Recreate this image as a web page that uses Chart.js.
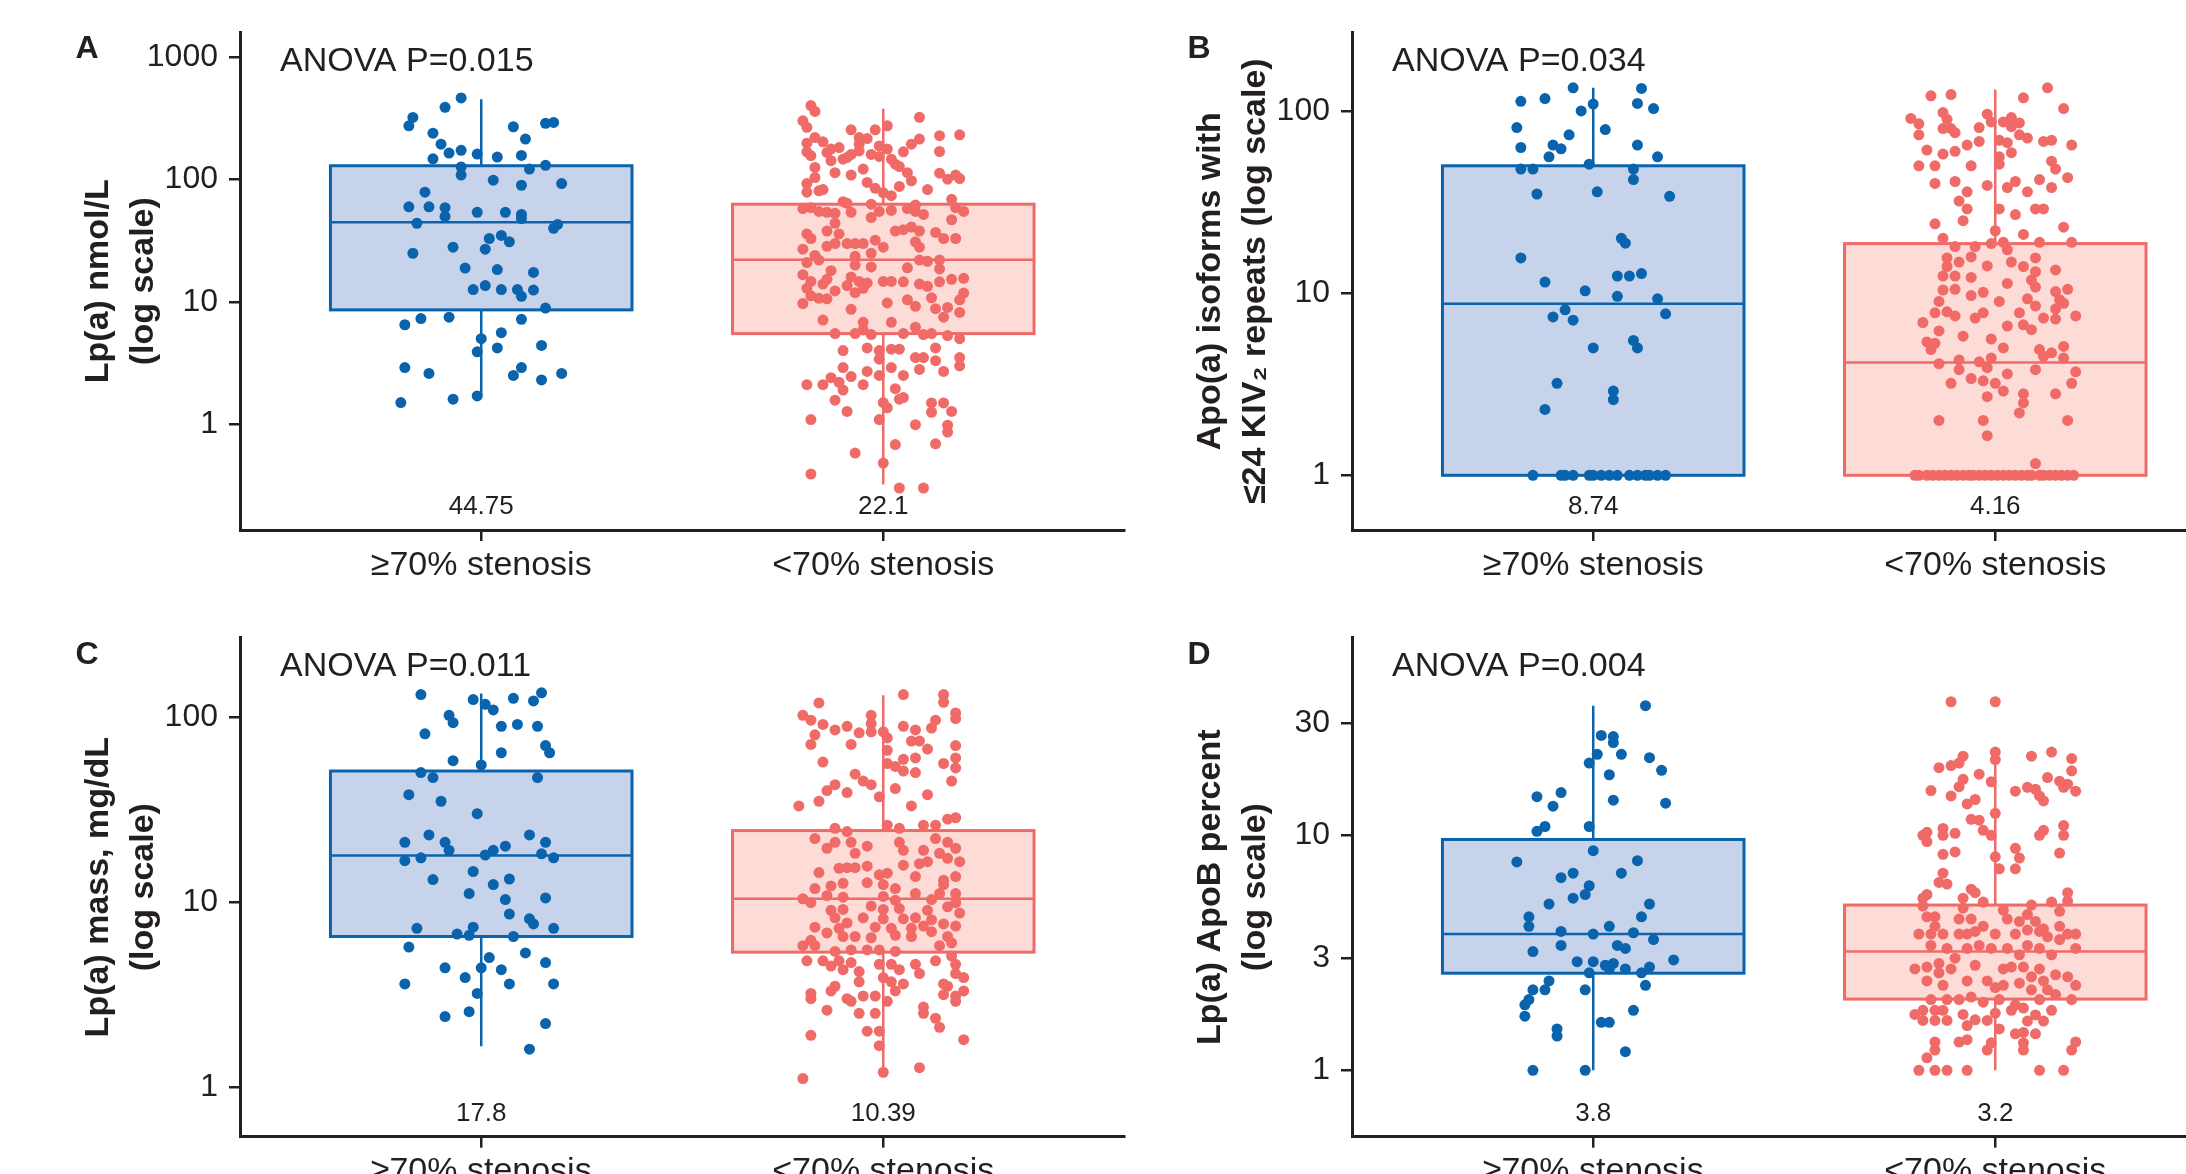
<!DOCTYPE html>
<html>
<head>
<meta charset="utf-8">
<script src="https://cdn.jsdelivr.net/npm/chart.js@4.4.1/dist/chart.umd.min.js"></script>
<style>
html, body { margin: 0; padding: 0; background: #fff; overflow: hidden; width: 2186px; height: 1174px; }
canvas { position: absolute; }
</style>
</head>
<body>
<canvas id="pA" width="1130" height="600" style="left:0;top:0"></canvas>
<canvas id="pB" width="1130" height="600" style="left:1112px;top:0"></canvas>
<canvas id="pC" width="1130" height="600" style="left:0;top:600px"></canvas>
<canvas id="pD" width="1130" height="600" style="left:1112px;top:600px"></canvas>
<script>
// groups on the x axis
var groups = ['≥70% stenosis', '<70% stenosis'];

// box stats per group: [whisker low, q1, median, q3, whisker high]
var statsA = [[1.7, 8.6, 44.75, 130, 455], [0.32, 5.5, 22.1, 63, 380]];
var statsB = [[1, 1, 8.74, 50, 134], [1, 1, 4.16, 18.7, 131]];
var statsC = [[1.66, 6.5, 17.8, 51, 134], [1.14, 5.35, 10.39, 24.3, 131]];
var statsD = [[1, 2.59, 3.8, 9.6, 35.6], [1, 2.01, 3.2, 5.05, 22.6]];

var medianLabels = {
    A: ['44.75', '22.1'],
    B: ['8.74', '4.16'],
    C: ['17.8', '10.39'],
    D: ['3.8', '3.2']
};

// y ticks
var ticksA = [1, 10, 100, 1000];
var ticksB = [1, 10, 100];
var ticksC = [1, 10, 100];
var ticksD = [1, 3, 10, 30];

// points: [jitter, value]
var aBlue = [[-0.05,466],[-0.09,391],[-0.17,323],[-0.18,276],[-0.12,240],[0.08,271],[0.16,289],[0.18,294],[0.11,215],[-0.10,195],[-0.08,165],[-0.05,174],[-0.01,162],[-0.12,148],[0.04,153],[0.10,158],[-0.05,127],[-0.05,109],[0.12,122],[0.16,131],[0.03,99],[0.10,90],[0.20,93],[-0.14,79],[-0.18,60],[-0.13,60],[-0.09,59],[-0.09,50],[-0.01,54],[0.06,54],[0.10,52],[0.10,48],[-0.16,44],[0.18,40],[0.19,43],[0.02,33],[0.05,35],[0.07,31],[-0.17,25],[-0.07,28],[0.01,27],[-0.04,18.9],[0.04,18.4],[0.13,17.4],[-0.02,12.6],[0.01,13.6],[0.05,12.6],[0.09,12.6],[0.10,11.1],[0.13,12.5],[0.16,8.9],[-0.19,6.5],[-0.15,7.3],[-0.08,7.5],[0.10,7.2],[0.00,5.0],[0.05,5.6],[-0.01,3.9],[0.04,4.2],[0.15,4.4],[-0.19,2.9],[-0.13,2.6],[0.08,2.5],[0.10,2.9],[0.15,2.3],[0.20,2.6],[-0.20,1.5],[-0.07,1.6],[-0.01,1.7]];

var aRed = [[-0.18,404],[-0.17,362],[0.09,324],[-0.20,303],[-0.19,268],[-0.08,256],[-0.02,256],[0.01,276],[0.14,229],[0.19,233],[-0.17,221],[-0.06,221],[-0.04,217],[-0.15,204],[-0.19,199],[0.09,215],[0.07,195],[-0.01,189],[0.01,178],[-0.13,178],[-0.11,183],[-0.06,195],[-0.19,169],[-0.18,157],[-0.14,167],[-0.08,161],[-0.06,172],[-0.03,161],[-0.01,155],[0.05,169],[0.14,170],[0.02,147],[-0.13,143],[-0.10,147],[-0.09,152],[0.03,134],[0.04,128],[-0.17,126],[-0.05,122],[-0.12,114],[-0.08,109],[0.06,114],[0.14,113],[0.18,109],[-0.17,104],[0.16,101],[0.19,102],[-0.04,95],[0.07,98],[-0.19,93],[-0.19,79],[-0.16,81],[-0.15,83],[-0.02,85],[0.00,78],[0.02,74],[0.04,88],[0.11,83],[0.17,69],[-0.10,66],[-0.09,64],[-0.03,63],[0.08,62],
    [-0.20,58],[-0.18,59],[-0.16,55],[-0.14,54],[-0.12,53],[-0.08,54],[-0.03,49],[-0.01,55],[0.02,56],[0.06,58],[0.08,55],[0.10,52],[0.18,59],[0.20,55],[0.17,47],[-0.12,44],[-0.14,38],[-0.19,36],[-0.18,33],[-0.11,36],[0.03,38],[0.05,39],[0.07,41],[0.09,38],[0.13,37],[0.15,33],[0.18,33],[-0.09,30],[-0.07,30],[-0.05,30],[-0.02,32],[0.00,28],[0.08,31],[0.09,28],[-0.20,27],[-0.14,28.5],[-0.12,30],[-0.03,25],[-0.17,24],[-0.16,22],[-0.19,21],[-0.07,23.6],[-0.07,20],[-0.03,19.3],[0.06,19],[0.09,22],[0.11,21.5],[0.14,22],[0.14,18.6],[-0.13,18],[-0.14,15.3],[-0.20,16.7],[-0.18,14.7],[-0.19,12.9],[-0.15,14],[-0.08,16],[-0.06,14.7],[-0.09,13.6],[-0.04,14.3],[0.00,14.7],[0.02,14.7],[0.05,14.6],[0.09,14],[0.11,13.4],[0.14,14.6],[0.17,15.3],[0.20,15.6],[-0.12,12.3],[-0.07,11.9],[-0.05,12.9],[-0.18,11.2],[-0.16,10.7],[-0.14,10.6],[-0.20,9.7],[0.01,9.8],[0.06,10.4],[0.08,9.2],[0.12,10.8],[0.20,11.8],[0.19,10.4],[-0.08,8.7],[0.13,8.8],[0.16,9.0],[0.19,8.2],[0.15,7.5],[-0.15,7.1],[-0.05,6.8],[0.02,6.8],[-0.05,5.9],[-0.07,5.5],[-0.12,5.5],[-0.03,5.4],[0.05,5.5],[0.08,6.2],[0.10,5.4],[0.12,5.5],[0.16,5.3],[0.19,5.0],
    [-0.10,4.0],[-0.04,4.2],[-0.01,4.0],[0.02,4.1],[0.04,4.1],[0.08,3.5],[0.10,3.5],[0.13,3.3],[0.13,4.2],[0.19,3.5],[0.19,3.0],[-0.01,3.4],[-0.10,2.9],[-0.04,2.7],[-0.01,2.5],[0.02,2.9],[0.05,2.5],[0.09,2.8],[0.15,2.7],[-0.13,2.4],[-0.08,2.45],[-0.11,2.2],[-0.10,1.9],[-0.05,2.1],[-0.19,2.1],[-0.15,2.1],[0.03,1.95],[0.04,1.6],[0.05,1.65],[0.00,1.5],[0.01,1.36],[-0.12,1.57],[-0.09,1.27],[0.12,1.49],[0.15,1.49],[0.12,1.25],[0.17,1.27],[-0.18,1.09],[-0.01,1.09],[0.08,0.99],[0.16,0.98],[0.16,0.86],[0.03,0.68],[0.13,0.69],[-0.07,0.58],[0.00,0.48],[-0.18,0.39],[0.04,0.30],[0.10,0.30]];

var bBlue = [[-0.05,134],[-0.18,113],[-0.12,117],[-0.03,100],[0.00,109],[0.12,133],[0.11,110],[0.15,103],[-0.19,81],[0.03,79],[-0.06,74],[-0.18,63],[-0.10,65],[-0.08,62],[-0.11,56],[0.11,65],[0.16,56],[-0.18,48],[-0.15,48],[-0.01,51],[0.10,48],[0.10,42],[-0.14,35],[0.01,36],[0.19,34],[0.07,20],[0.08,18.8],[-0.18,15.6],[0.06,12.4],[0.09,12.4],[0.12,12.8],[-0.12,11.5],[-0.02,10.3],[0.06,9.6],[0.16,9.3],[-0.07,8.1],[-0.10,7.4],[-0.05,7.1],[0.18,7.7],[0.10,5.5],[0.11,5.0],[0.00,5.0],[-0.09,3.2],[0.05,2.9],[0.05,2.6],[-0.12,2.3],
    [-0.15,1],[-0.08,1],[-0.07,1],[-0.05,1],[-0.01,1],[0.00,1],[0.02,1],[0.04,1],[0.06,1],[0.09,1],[0.11,1],[0.13,1],[0.14,1],[0.16,1],[0.18,1]];

var bRed = [[-0.16,121],[-0.11,123],[0.13,134],[0.07,118],[0.17,103],[-0.21,91],[-0.19,85],[-0.13,98],[-0.12,90],[-0.13,80],[-0.11,80],[-0.10,76],[-0.19,74],[-0.04,81],[-0.02,96],[-0.01,87],[0.02,87],[0.04,92],[0.06,86],[0.04,82],[0.06,74],[0.08,71],[0.01,69],[0.03,67],[0.12,68],[0.14,69],[0.19,65],[-0.17,61],[-0.13,58],[-0.10,60],[-0.07,65],[-0.04,68],[0.04,59],[0.01,56],[0.01,51],[0.14,53],[0.15,48],[-0.19,50],[-0.15,50],[-0.06,50],[-0.15,40],[-0.10,41],[-0.07,36],[-0.02,39],[0.03,38],[0.05,41],[0.08,36],[0.11,42],[0.14,38],[0.18,43],[-0.09,32],[-0.07,29],[-0.08,25],[-0.15,24],[0.01,29],[0.05,27],[0.10,29],[0.12,29],[0.17,23],[0.00,22],[0.07,21],[-0.13,20],[-0.10,18],[-0.05,18],[-0.01,18.7],[0.02,19],[0.03,17.3],[0.11,19],[0.19,19],[-0.12,15.6],[-0.12,14],[-0.09,14.8],[-0.06,15.8],[-0.02,14.1],[0.04,14.8],[0.07,14],[0.10,15.6],[0.15,13.4],[-0.13,12.4],[-0.10,12.4],[-0.06,12.2],[0.10,13.1],[0.09,11.8],[0.03,11.3],[-0.13,10.4],[-0.10,10.5],[-0.06,9.7],[-0.03,10.1],[0.10,10.8],[0.15,10.2],[0.18,10.5],[-0.14,9.0],[0.01,9.0],[0.08,9.3],[0.16,9.2],[0.17,8.8],[-0.15,7.8],[-0.12,7.9],[-0.10,7.5],[-0.05,7.3],[-0.03,7.8],[0.06,7.8],[0.10,8.5],[0.15,8.2],[0.20,7.5],[-0.18,6.9],[-0.14,6.2],[-0.08,5.8],[0.03,6.6],[0.07,6.7],[0.09,6.3],[0.12,7.3],[0.15,7.2],[-0.17,5.4],[-0.15,5.3],[-0.16,4.9],[-0.01,5.6],[0.02,5.0],[0.11,4.9],[0.14,4.7],[0.17,5.1],[0.17,4.4],[0.12,4.5],[-0.09,4.3],[-0.09,3.8],[-0.14,4.1],[-0.04,4.2],[-0.01,4.4],[-0.02,3.9],[0.03,3.6],[0.10,3.8],[0.20,3.7],[0.19,3.2],[-0.11,3.2],[-0.06,3.4],[-0.03,3.3],[0.00,3.2],[0.02,2.9],[-0.02,2.7],[0.07,2.8],[0.07,2.5],[0.15,2.8],[0.06,2.2],[-0.14,2.0],[-0.03,2.0],[0.18,2.0],[-0.02,1.65],[0.10,1.16],
    [-0.20,1],[-0.19,1],[-0.17,1],[-0.155,1],[-0.14,1],[-0.125,1],[-0.11,1],[-0.095,1],[-0.08,1],[-0.065,1],[-0.055,1],[-0.04,1],[-0.025,1],[-0.01,1],[0.005,1],[0.02,1],[0.035,1],[0.05,1],[0.065,1],[0.08,1],[0.09,1],[0.11,1],[0.12,1],[0.135,1],[0.15,1],[0.165,1],[0.18,1],[0.195,1]];

var cBlue = [[-0.15,132],[-0.02,124],[0.01,117],[0.03,109],[0.08,126],[0.13,122],[0.15,135],[-0.08,102],[-0.07,93],[-0.14,81],[0.05,89],[0.09,91],[0.14,89],[0.16,70],[0.17,64],[0.05,64],[-0.07,58],[0.00,55],[-0.15,50],[-0.12,47],[0.14,47],[-0.18,38],[-0.10,35],[-0.01,30],[-0.13,23],[-0.19,21],[-0.09,21],[-0.08,19],[0.12,23],[0.16,21],[0.06,20],[0.03,19],[0.01,17.9],[0.15,18.2],[0.18,17.3],[-0.19,16.7],[-0.15,17.3],[-0.02,14.6],[-0.12,13.2],[0.03,12.4],[0.07,13.3],[-0.03,11.1],[0.16,10.5],[0.06,10.3],[0.07,8.6],[0.12,8.1],[0.13,7.6],[-0.16,7.2],[-0.02,7.3],[-0.06,6.7],[-0.03,6.6],[0.08,6.5],[0.18,7.2],[-0.18,5.7],[0.02,5.0],[0.11,5.3],[0.16,4.7],[-0.09,4.4],[0.00,4.4],[0.05,4.3],[-0.04,3.9],[-0.19,3.6],[0.07,3.6],[0.18,3.6],[-0.01,3.2],[-0.09,2.4],[-0.03,2.55],[0.16,2.2],[0.12,1.6]];

var cRed = [[-0.16,119],[0.05,132],[0.15,132],[0.15,120],[-0.20,102],[-0.18,96],[-0.03,102],[0.18,105],[0.18,98],[-0.15,91],[-0.12,85],[-0.09,89],[-0.06,82],[-0.03,92],[-0.03,83],[0.05,89],[0.08,85],[0.13,96],[0.12,87],[-0.17,80],[-0.18,71],[-0.08,71],[0.00,83],[0.01,77],[0.07,74],[0.09,74],[0.11,67],[0.18,70],[0.01,66],[0.05,59],[0.08,60],[-0.15,57],[0.01,56],[0.03,54],[0.05,51],[0.08,50],[0.15,56],[0.18,60],[0.18,53],[0.17,45],[-0.07,49],[-0.05,45],[-0.03,43],[-0.12,43],[-0.14,40],[-0.09,39],[-0.01,37],[0.03,41],[0.11,38],[-0.16,35],[-0.21,33],[0.07,33],[0.16,28],[0.18,28.5],[0.01,26],[-0.12,25],[0.10,26],[0.13,26],[0.04,25],[-0.09,24],
    [-0.17,22],[-0.14,19.5],[-0.12,21],[-0.08,21],[-0.07,18.3],[-0.04,20],[0.04,21],[0.05,19],[0.10,19],[0.13,22],[0.16,21],[0.18,19.5],[0.14,18.3],[0.16,17.2],[0.19,16.5],[0.11,16.5],[0.09,16.1],[0.05,15.8],[-0.11,15.2],[-0.09,15.3],[-0.07,15.3],[-0.04,15.6],[-0.16,14.4],[-0.04,12.7],[-0.01,14],[0.01,14.3],[0.08,13.7],[0.15,13.1],[0.18,13.7],[-0.13,12.2],[-0.10,12.6],[-0.17,11.8],[0.00,12.4],[0.03,11.8],[0.15,12.4],[0.08,11.1],[0.14,11.1],[0.18,11.1],[-0.20,10.4],[-0.18,9.9],[-0.14,10.8],[-0.10,10.6],[0.00,10.7],[0.03,10.2],[0.12,10.3],[0.18,9.9],[-0.13,9.0],[-0.10,9.1],[-0.03,9.5],[0.00,9.1],[0.04,9.2],[0.11,9.0],[0.16,9.4],[-0.12,8.2],[-0.05,8.2],[0.00,8.1],[0.05,8.1],[0.08,8.2],[0.12,8.0],[0.19,8.7],[-0.17,7.3],[-0.11,7.2],[-0.09,7.7],[-0.02,7.3],[0.02,7.2],[0.07,7.2],[0.10,7.4],[0.15,7.6],[0.18,7.4],[-0.14,6.8],[-0.10,6.5],[-0.07,6.5],[-0.03,6.4],[0.03,6.6],[0.07,6.5],[0.12,6.9],[0.16,6.5],[-0.18,6.2],[-0.20,5.8],[-0.17,5.8],[0.17,6.0],[0.14,5.8],[-0.12,5.4],[-0.08,5.5],[-0.04,5.5],[-0.01,5.5],[0.03,5.4],
    [-0.19,4.8],[-0.15,4.8],[-0.11,4.8],[-0.08,4.7],[-0.13,4.5],[-0.10,4.3],[-0.06,4.2],[-0.01,4.6],[0.02,4.6],[0.04,4.3],[0.08,4.6],[0.09,4.1],[0.13,4.8],[0.17,5.1],[0.18,4.6],[0.18,4.1],[0.20,3.9],[0.00,3.9],[0.02,3.7],[0.05,3.6],[0.03,3.3],[-0.06,3.7],[-0.13,3.3],[-0.12,3.5],[-0.18,3.2],[-0.18,3.0],[-0.09,3.0],[-0.08,2.9],[-0.05,3.1],[-0.02,3.1],[0.01,2.9],[0.15,3.6],[0.15,3.15],[0.18,3.1],[0.18,2.9],[0.20,3.3],[0.16,3.5],[-0.14,2.6],[-0.06,2.5],[-0.02,2.5],[0.10,2.5],[0.10,2.7],[0.13,2.35],[0.14,2.1],[-0.04,2.0],[-0.01,2.0],[-0.18,1.9],[0.20,1.8],[-0.01,1.67],[0.00,1.2],[0.09,1.27],[-0.20,1.11]];

var dBlue = [[0.13,35.6],[0.02,26.6],[0.05,26.3],[0.05,24.8],[0.01,22.1],[0.07,22.1],[0.14,21.4],[-0.01,20.3],[0.17,18.9],[0.04,18.1],[-0.14,14.6],[-0.08,15.2],[-0.10,13.3],[0.05,14.1],[0.18,13.7],[-0.14,10.4],[-0.12,10.9],[-0.01,10.9],[0.00,8.6],[-0.19,7.7],[0.11,7.8],[-0.08,6.6],[-0.05,6.9],[0.07,6.9],[-0.01,6.1],[-0.02,5.6],[-0.05,5.4],[-0.11,5.1],[0.14,5.1],[-0.16,4.5],[-0.16,4.1],[0.12,4.5],[-0.08,3.9],[0.00,3.8],[0.04,4.1],[0.10,3.85],[0.15,3.6],[-0.08,3.4],[-0.15,3.2],[0.06,3.4],[0.08,3.3],[0.20,2.95],[-0.04,2.9],[0.00,2.9],[0.03,2.8],[0.05,2.85],[0.04,2.7],[0.08,2.7],[-0.01,2.6],[0.12,2.6],[0.14,2.75],[-0.11,2.4],[-0.15,2.2],[-0.12,2.2],[-0.02,2.2],[0.13,2.3],[-0.16,2.0],[-0.17,1.9],[-0.17,1.7],[0.10,1.8],[0.02,1.6],[0.04,1.6],[-0.09,1.5],[-0.09,1.4],[0.08,1.2],[-0.15,1.0],[-0.02,1.0]];

var dRed = [[-0.11,37],[0.00,37],[0.00,22.6],[0.00,21],[-0.08,21.7],[-0.09,20.3],[-0.11,19.8],[-0.14,19.4],[-0.04,18.2],[0.09,21.7],[0.14,22.6],[0.19,21.2],[0.19,18.8],[-0.08,17.3],[-0.09,16.1],[-0.01,16.9],[0.13,17.6],[0.16,17],[-0.16,15.5],[-0.11,14.7],[0.05,15.4],[0.08,16],[0.10,15.7],[0.11,14.7],[0.12,14],[0.17,16],[0.18,16.5],[0.20,15.4],[-0.07,13.6],[-0.05,14.2],[0.00,12.4],[-0.06,11.7],[-0.04,11.6],[-0.03,10.5],[-0.01,10],[-0.18,10],[-0.17,10.3],[-0.17,9.4],[-0.13,10.7],[-0.13,10],[-0.10,10.2],[0.11,10],[0.12,10.5],[0.17,11],[0.17,10],[0.16,8.4],[0.05,8.8],[0.06,8.0],[-0.13,8.3],[-0.10,8.5],[0.00,8.1],[0.01,7.2],[0.05,7.2],[-0.13,6.9],[-0.14,6.3],[-0.12,6.2],[-0.06,5.9],[-0.05,5.7],[0.18,5.7],[-0.18,5.4],[-0.17,5.6],[-0.08,5.4],[-0.03,5.2],[0.14,5.2],[0.18,5.25],
    [-0.18,5.0],[-0.17,4.5],[-0.15,4.5],[-0.08,4.9],[0.02,4.8],[0.09,5.05],[0.16,4.75],[0.08,4.6],[-0.09,4.4],[-0.06,4.4],[0.03,4.4],[0.06,4.3],[0.10,4.3],[-0.15,4.1],[0.16,4.1],[0.12,4.0],[-0.19,3.8],[-0.16,3.8],[-0.13,3.8],[-0.09,3.8],[-0.07,3.8],[-0.05,3.9],[-0.03,4.1],[0.00,3.8],[0.05,3.8],[0.08,3.95],[0.11,3.9],[0.13,3.7],[0.18,3.8],[0.20,3.8],[-0.16,3.4],[-0.12,3.3],[-0.07,3.3],[-0.04,3.4],[-0.01,3.3],[0.03,3.3],[0.06,3.1],[0.08,3.4],[0.11,3.3],[0.14,3.1],[0.16,3.6],[0.20,3.3],[-0.10,3.0],[-0.05,2.8],[-0.14,2.85],[-0.20,2.7],[-0.17,2.75],[-0.14,2.6],[-0.11,2.7],[0.02,2.7],[0.04,2.75],[0.07,2.75],[0.11,2.7],[0.09,2.5],[0.15,2.55],[0.18,2.5],[0.20,2.3],[-0.17,2.4],[-0.13,2.3],[-0.07,2.4],[-0.02,2.4],[0.00,2.25],[0.02,2.3],[0.06,2.35],[0.09,2.2],[0.12,2.4],[0.13,2.2],[0.15,2.1],[-0.16,2.0],[-0.12,2.0],[-0.09,2.0],[-0.06,2.05],[-0.03,1.95],[0.01,2.0],[0.05,1.9],[0.11,2.0],[0.19,2.0],
    [-0.20,1.73],[-0.18,1.8],[-0.15,1.8],[-0.13,1.8],[-0.18,1.63],[-0.15,1.63],[-0.12,1.63],[-0.08,1.73],[-0.07,1.55],[-0.05,1.64],[-0.02,1.63],[0.00,1.75],[0.01,1.5],[0.04,1.8],[0.07,1.84],[0.08,1.62],[0.12,1.62],[0.14,1.8],[0.10,1.72],[0.05,1.43],[0.07,1.45],[0.10,1.43],[-0.09,1.32],[-0.07,1.35],[-0.15,1.32],[-0.15,1.22],[-0.02,1.22],[-0.01,1.31],[0.07,1.22],[0.07,1.31],[0.20,1.32],[0.19,1.22],[-0.17,1.13],[-0.19,1.0],[-0.15,1.0],[-0.12,1.0],[-0.07,1.0],[0.11,1.0],[0.17,1.0]];

var blue = '#0a64ad';
var blueFill = '#c7d3ea';
var red = '#f06a67';
var redFill = '#fddcd7';
var ink = '#231f20';
var fam = "'Liberation Sans', Arial, Helvetica, sans-serif";
var boxHalf = 0.375;

Chart.defaults.font.family = fam;
Chart.defaults.color = ink;

var boxPlugin = {
    id: 'boxes',
    beforeDatasetsDraw: function(chart, args, opts) {
        var ctx = chart.ctx, x = chart.scales.x, y = chart.scales.y;
        opts.stats.forEach(function(s, i) {
            var line = i === 0 ? blue : red;
            var fill = i === 0 ? blueFill : redFill;
            var cx = x.getPixelForValue(i);
            var x0 = x.getPixelForValue(i - boxHalf);
            var x1 = x.getPixelForValue(i + boxHalf);
            var top = y.getPixelForValue(s[3]);
            var bot = y.getPixelForValue(s[1]);
            var med = y.getPixelForValue(s[2]);
            ctx.save();
            ctx.strokeStyle = line;
            ctx.lineWidth = 2.5;
            ctx.beginPath();
            ctx.moveTo(cx, y.getPixelForValue(s[4]));
            ctx.lineTo(cx, y.getPixelForValue(s[0]));
            ctx.stroke();
            ctx.fillStyle = fill;
            ctx.fillRect(x0, top, x1 - x0, bot - top);
            ctx.lineWidth = 3;
            ctx.strokeRect(x0, top, x1 - x0, bot - top);
            ctx.lineWidth = 2.5;
            ctx.beginPath();
            ctx.moveTo(x0, med);
            ctx.lineTo(x1, med);
            ctx.stroke();
            ctx.restore();
        });
    },
    afterDraw: function(chart, args, opts) {
        var ctx = chart.ctx, x = chart.scales.x, area = chart.chartArea;
        ctx.save();
        ctx.fillStyle = ink;
        ctx.font = '26px ' + fam;
        ctx.textAlign = 'center';
        ctx.textBaseline = 'middle';
        opts.medians.forEach(function(m, i) {
            ctx.fillText(m, x.getPixelForValue(i), area.bottom - 23);
        });
        ctx.textAlign = 'left';
        ctx.textBaseline = 'alphabetic';
        ctx.font = '34px ' + fam;
        ctx.fillText(opts.anova, area.left + 40, area.top + 38.5);
        ctx.font = 'bold 32px ' + fam;
        ctx.textAlign = 'center';
        ctx.textBaseline = 'middle';
        ctx.fillText(opts.letter, area.left - 153, area.top + 17);
        ctx.restore();
    }
};

function pts(list, g) {
    return list.map(function(p) { return {x: g + p[0], y: p[1]}; });
}

function makePanel(id, p) {
    new Chart(document.getElementById(id), {
        type: 'scatter',
        data: {
            datasets: [
                {data: pts(p.blue, 0), backgroundColor: blue, pointRadius: 5.5, pointHoverRadius: 5.5, borderWidth: 0},
                {data: pts(p.red, 1), backgroundColor: red, pointRadius: 5.5, pointHoverRadius: 5.5, borderWidth: 0}
            ]
        },
        options: {
            responsive: false,
            animation: false,
            events: [],
            layout: {padding: {top: p.padTop, left: 0, right: 0, bottom: 0}},
            plugins: {
                legend: {display: false},
                tooltip: {enabled: false},
                boxes: {stats: p.stats, medians: p.medians, anova: p.anova, letter: p.letter}
            },
            scales: {
                x: {
                    type: 'linear',
                    min: -0.6,
                    max: 1.6,
                    afterBuildTicks: function(s) { s.ticks = [{value: 0}, {value: 1}]; },
                    afterFit: function(s) { s.height = p.xh; },
                    ticks: {
                        callback: function(v) { return groups[v]; },
                        font: {size: 34},
                        color: ink,
                        padding: 4,
                        maxRotation: 0
                    },
                    grid: {drawOnChartArea: false, color: ink, lineWidth: 2.5, tickLength: 11},
                    border: {color: ink, width: 3}
                },
                y: {
                    type: 'logarithmic',
                    min: p.min,
                    max: p.max,
                    afterBuildTicks: function(s) { s.ticks = p.ticks.map(function(v) { return {value: v}; }); },
                    afterFit: function(s) { s.width = 240; },
                    ticks: {
                        callback: function(v) { return String(v); },
                        font: {size: 32},
                        color: ink,
                        padding: 11,
                        autoSkip: false
                    },
                    grid: {drawOnChartArea: false, color: ink, lineWidth: 2.5, tickLength: 11},
                    border: {color: ink, width: 3},
                    title: {
                        display: true,
                        text: p.title,
                        color: ink,
                        font: {size: 34, weight: 'bold', lineHeight: 1.3},
                        padding: {top: 77, bottom: 0}
                    }
                }
            }
        },
        plugins: [boxPlugin]
    });
}

makePanel('pA', {blue: aBlue, red: aRed, stats: statsA, medians: medianLabels.A, ticks: ticksA,
    min: 0.136, max: 1600, padTop: 32.5, xh: 70, anova: 'ANOVA P=0.015', letter: 'A',
    title: ['Lp(a) nmol/L', '(log scale)']});
makePanel('pB', {blue: bBlue, red: bRed, stats: statsB, medians: medianLabels.B, ticks: ticksB,
    min: 0.501, max: 269.5, padTop: 32.5, xh: 70, anova: 'ANOVA P=0.034', letter: 'B',
    title: ['Apo(a) isoforms with', '≤24 KIV₂ repeats (log scale)']});
makePanel('pC', {blue: cBlue, red: cRed, stats: statsC, medians: medianLabels.C, ticks: ticksC,
    min: 0.538, max: 268, padTop: 37.7, xh: 63.3, anova: 'ANOVA P=0.011', letter: 'C',
    title: ['Lp(a) mass, mg/dL', '(log scale)']});
makePanel('pD', {blue: dBlue, red: dRed, stats: statsD, medians: medianLabels.D, ticks: ticksD,
    min: 0.522, max: 69.3, padTop: 37.7, xh: 63.3, anova: 'ANOVA P=0.004', letter: 'D',
    title: ['Lp(a) ApoB percent', '(log scale)']});
</script>
</body>
</html>
